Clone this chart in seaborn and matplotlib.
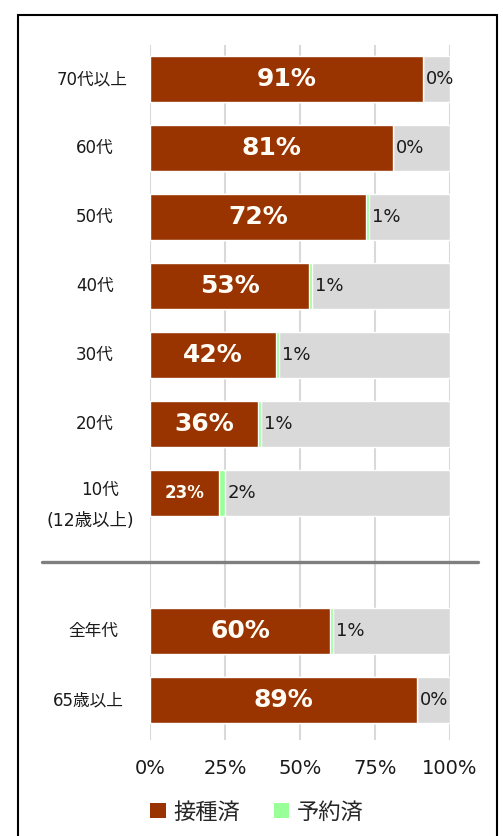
import matplotlib
matplotlib.use("Agg")
import matplotlib.pyplot as plt
import matplotlib.transforms as mtransforms
import seaborn as sns
import pandas as pd
from matplotlib.patches import Patch, Rectangle
from matplotlib.lines import Line2D

categories = ["70代以上", "60代", "50代", "40代", "30代", "20代", "10代", "全年代", "65歳以上"]
positions = [0, 1, 2, 3, 4, 5, 6, 8, 9]
vaccinated = [91, 81, 72, 53, 42, 36, 23, 60, 89]
reserved = [0, 0, 1, 1, 1, 1, 2, 1, 0]
xticks = [0, 25, 50, 75, 100]
xtick_labels = ["0%", "25%", "50%", "75%", "100%"]
legend_labels = ["接種済", "予約済"]

BROWN = "#993300"
GREEN = "#99FF99"
GRAY = "#D9D9D9"
TXT = "#1a1a1a"

sns.set_theme(style="white")
plt.rcParams["font.family"] = ["DejaVu Sans", "Noto Sans CJK JP"]

df = pd.DataFrame({
    "cat": categories,
    "pos": positions,
    "vac": vaccinated,
    "res": reserved,
})
df["total"] = df["vac"] + df["res"]
df["full"] = 100

W, H = 503, 836
fig = plt.figure(figsize=(W / 100, H / 100), dpi=100)
ax_left = 150 / W
ax_w = 300 / W
top_px, bot_px = 45, 740
ax = fig.add_axes([ax_left, 1 - bot_px / H, ax_w, (bot_px - top_px) / H])

bw = 0.67
sns.barplot(data=df, x="full", y="pos", orient="y", native_scale=True,
            color=GRAY, width=bw, ax=ax, saturation=1, zorder=2)
sns.barplot(data=df, x="total", y="pos", orient="y", native_scale=True,
            color=GREEN, width=bw, ax=ax, saturation=1, zorder=3)
sns.barplot(data=df, x="vac", y="pos", orient="y", native_scale=True,
            color=BROWN, width=bw, ax=ax, saturation=1, zorder=4)

ax.set_xlim(0, 100)
y0 = -(79 - top_px) / 69
y1 = (bot_px - 79) / 69
ax.set_ylim(y1, y0)
for s in ax.spines.values():
    s.set_visible(False)
ax.set_yticks([])
ax.set_ylabel("")
ax.set_xlabel("")
ax.set_xticks(xticks)
ax.set_xticklabels(xtick_labels, fontsize=14, color=TXT)
ax.tick_params(axis="x", length=0, pad=14)
for xv in xticks:
    ax.axvline(xv, color=GRAY, lw=1.5, zorder=1)

# value labels
for p, v, r, t in zip(positions, vaccinated, reserved, df["total"]):
    fs = 12 if v < 30 else 18
    ax.text(v / 2, p, f"{v}%", ha="center", va="center", color="#FFFCF5",
            fontsize=fs, fontweight="bold", zorder=5)
    ax.annotate(f"{r}%", xy=(t, p), xytext=(2, 0), textcoords="offset points",
                ha="left", va="center", fontsize=13, color=TXT, zorder=5)

# category labels
blend = mtransforms.blended_transform_factory(fig.transFigure, ax.transData)
label_x = {"10代": 100, "70代以上": 92, "全年代": 93, "65歳以上": 88}
for c, p in zip(categories, positions):
    xpx = label_x.get(c, 95)
    yoff = -0.05 if c == "10代" else 0
    ax.text(xpx / W, p + yoff, c, transform=blend,
            ha="center", va="center", fontsize=12, color=TXT)
ax.text(90 / W, 6.41, "(12歳以上)", transform=blend,
        ha="center", va="center", fontsize=12.5, color=TXT)

# separator line
ysep = 1 - 562 / H
fig.add_artist(Line2D([42 / W, 478 / W], [ysep, ysep], color="#7F7F7F", lw=2.4))

# outer frame
fig.add_artist(Rectangle((18 / W, -0.01), (497 - 18) / W, 1 - 15 / H + 0.01,
                         fill=False, edgecolor="black", lw=1.5, transform=fig.transFigure))

handles = [Patch(facecolor=BROWN, edgecolor="none"), Patch(facecolor=GREEN, edgecolor="none")]
fig.legend(handles, legend_labels, loc="center", bbox_to_anchor=(257 / W, 1 - 812 / H),
           ncol=2, frameon=False, fontsize=16, handlelength=0.7, handleheight=0.7,
           handletextpad=0.35, columnspacing=1.5, borderpad=0)

fig.savefig("out.png", dpi=100)
